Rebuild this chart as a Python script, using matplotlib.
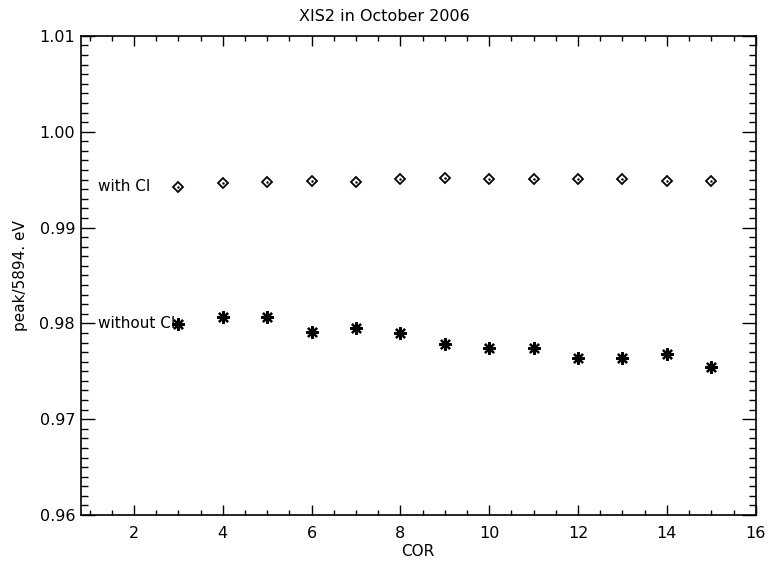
import matplotlib
matplotlib.use("Agg")
import matplotlib.pyplot as plt
from matplotlib.ticker import MultipleLocator, FormatStrFormatter

cor = [3, 4, 5, 6, 7, 8, 9, 10, 11, 12, 13, 14, 15]
with_ci = [0.99427, 0.99469, 0.99479, 0.99486, 0.99479, 0.99504, 0.99514,
           0.99504, 0.99504, 0.99504, 0.99504, 0.99486, 0.99486]
without_ci = [0.97997, 0.98063, 0.98063, 0.97907, 0.97948, 0.97900, 0.97781,
              0.97746, 0.97740, 0.97642, 0.97642, 0.97677, 0.97548]

title = "XIS2 in October 2006"
xlabel = "COR"
ylabel = "peak/5894. eV"
label_with = "with CI"
label_without = "without CI"

plt.rcParams['font.family'] = ['DejaVu Sans']
fig = plt.figure(figsize=(7.68, 5.61), dpi=100)
ax = fig.add_axes([0.105, 0.082, 0.879, 0.854])

ax.plot(cor, with_ci, linestyle='none', marker='D', ms=5.2, mfc='none',
        mec='black', mew=1.3)
ax.plot(cor, with_ci, linestyle='none', marker='.', ms=1.5, color='black')
ax.plot(cor, without_ci, linestyle='none', marker=(8, 2, 0), ms=9,
        mec='black', mew=1.6)

ax.text(1.2, with_ci[0], label_with, fontsize=11, va='center', ha='left')
ax.text(1.2, without_ci[0], label_without, fontsize=11, va='center', ha='left')

ax.set_xlim(0.8, 16)
ax.set_ylim(0.96, 1.01)
ax.xaxis.set_major_locator(MultipleLocator(2))
ax.xaxis.set_minor_locator(MultipleLocator(0.5))
ax.yaxis.set_major_locator(MultipleLocator(0.01))
ax.yaxis.set_minor_locator(MultipleLocator(0.001))
ax.yaxis.set_major_formatter(FormatStrFormatter('%.2f'))
ax.xaxis.set_major_formatter(FormatStrFormatter('%d'))

ax.tick_params(which='both', direction='in', top=True, right=True,
               labelsize=11.5, width=1)
ax.tick_params(axis='x', which='major', length=7, pad=8)
ax.tick_params(axis='x', which='minor', length=3.5)
ax.tick_params(axis='y', which='major', length=10, pad=4)
ax.tick_params(axis='y', which='minor', length=5)
for s in ax.spines.values():
    s.set_linewidth(1.2)

ax.set_xlabel(xlabel, fontsize=11, labelpad=2)
ax.set_ylabel(ylabel, fontsize=11, labelpad=8)
fig.text(0.5, 0.97, title, fontsize=11.5, ha='center', va='center')

fig.savefig("out.png", dpi=100)
